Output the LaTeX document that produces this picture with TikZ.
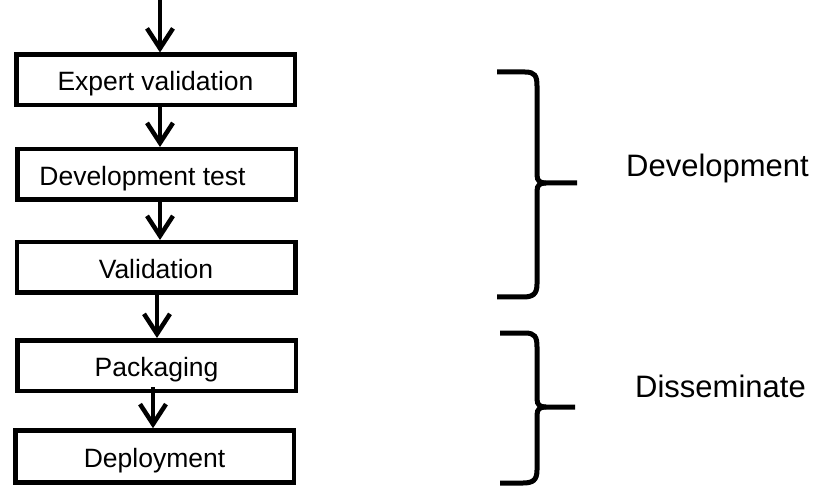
\documentclass[tikz,border=0pt]{standalone}
\usepackage{fontspec}
\setmainfont{Liberation Sans}
\usetikzlibrary{arrows.meta}
\begin{document}
\begin{tikzpicture}[x=1pt,y=-1pt,
  stepbox/.style={draw=black,line width=4.5pt,minimum width=278.5pt,minimum height=50.5pt,
    inner sep=0pt,text height=22pt,text depth=0pt,font=\fontsize{26.5}{30}\selectfont},
  flowarrow/.style={line width=4.5pt,-{Straight Barb[length=20pt,width=26pt,line width=4.5pt]}},
  bracestyle/.style={line width=5pt},
  phase/.style={anchor=base west,inner sep=0pt,font=\fontsize{31}{36}\selectfont}]
\useasboundingbox (0,0) rectangle (819,486);
\node[stepbox] (b1) at (155.5,80) {Expert validation};
\node[stepbox] (b2) at (156.5,174.5) {\hspace*{-28pt}Development test};
\node[stepbox] (b3) at (156,267.5) {Validation};
\node[stepbox] (b4) at (156.5,365.5) {Packaging};
\node[stepbox,minimum height=52pt] (b5) at (154.5,456.5) {Deployment};
\coordinate (start) at (160,0);
\draw[flowarrow] (start) -- (start |- b1.north);
\draw[flowarrow] ([xshift=4.5pt]b1.south) -- ([xshift=3.5pt]b2.north);
\draw[flowarrow] ([xshift=3.5pt]b2.south) -- ([xshift=4pt]b3.north);
\draw[flowarrow] ([xshift=1pt]b3.south) -- ([xshift=0.5pt]b4.north);
\draw[flowarrow] ([xshift=-3.5pt,yshift=6pt]b4.south) -- ([xshift=-1.5pt]b5.north);
% braces
\draw[bracestyle] (497,72) -- (525,72) .. controls (535,72) and (537,76) .. (537,86)
  -- (537,175) .. controls (537,181) and (540,183) .. (546,183) -- (577,183);
\draw[bracestyle] (546,183) .. controls (540,183) and (537,185) .. (537,191)
  -- (537,284) .. controls (537,294) and (533,297) .. (523,297) -- (497,297);
\draw[bracestyle] (500,333) -- (525,333) .. controls (535,333) and (537,337) .. (537,347)
  -- (537,399) .. controls (537,405) and (540,407) .. (546,407) -- (575,407);
\draw[bracestyle] (546,407) .. controls (540,407) and (537,409) .. (537,415)
  -- (537,470) .. controls (537,480) and (533,483) .. (523,483) -- (500,483);
\node[phase] (dev) at (626,177) {Development};
\node[phase] (dis) at (635,397) {Disseminate};
\end{tikzpicture}
\end{document}
